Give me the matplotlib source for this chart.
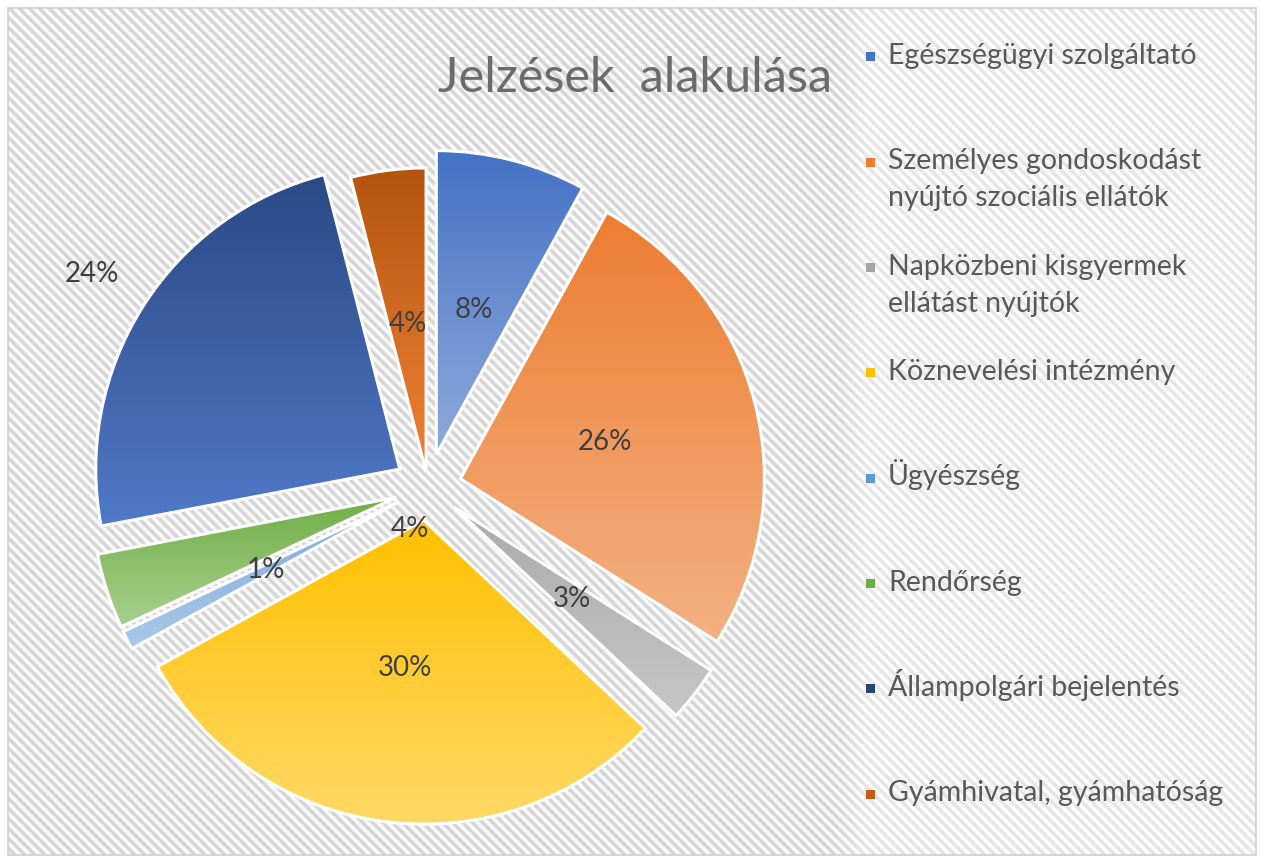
import numpy as np
import matplotlib.pyplot as plt
from matplotlib.colors import LinearSegmentedColormap
from matplotlib.patches import Rectangle

plt.rcParams['font.family'] = ['Lato', 'DejaVu Sans']

title = 'Jelzések  alakulása'
categories = ['Egészségügyi szolgáltató',
              'Személyes gondoskodást\nnyújtó szociális ellátók',
              'Napközbeni kisgyermek\nellátást nyújtók',
              'Köznevelési intézmény',
              'Ügyészség',
              'Rendőrség',
              'Állampolgári bejelentés',
              'Gyámhivatal, gyámhatóság']
shares = [8, 26, 3, 30, 1, 4, 24, 4]
explode_frac = [0.11, 0.11, 0.11, 0.11, 0.11, 0.11, 0.11, 0.05]

# gradient colours of the slices (top -> bottom) and legend markers
top_colors = ['#4472C4', '#ED7D31', '#ABABAB', '#FFC000', '#7FA9D9', '#70AD47', '#2B4A86', '#B4540E']
bottom_colors = ['#8FAADC', '#F4B183', '#C6C6C6', '#FFD966', '#A9C8EA', '#A9D18E', '#5079C7', '#F08236']
legend_colors = ['#4472C4', '#ED7D31', '#A5A5A5', '#FFC000', '#5B9BD5', '#70AD47', '#264478', '#C55A11']

W, H = 1264, 863
fig = plt.figure(figsize=(W / 100, H / 100), dpi=100)
ax = fig.add_axes([0, 0, 1, 1])
ax.set_axis_off()

# diagonal striped background, a bit lighter behind the legend
yy, xx = np.mgrid[0:H, 0:W]
wave = 0.5 + 0.5 * np.cos(2 * np.pi * (xx - yy) / 10.0)
fade = np.clip((xx - 835) / 30.0, 0, 1)
amp = 0.17 - 0.06 * fade
bg = 0.99 + 0.01 * fade - amp * wave
bg[(xx < 8) | (xx >= W - 8) | (yy < 8) | (yy >= H - 8)] = 1.0
ax.imshow(bg, cmap='gray', vmin=0, vmax=1, extent=(0, W, 0, H), origin='upper',
          interpolation='bilinear', zorder=0)
ax.add_patch(Rectangle((8, 8), W - 16, H - 16, fill=False, ec='#d0d0d0', lw=1.2, zorder=1))

R = 304
center = (428, H - 487)
wedges, texts, autotexts = ax.pie(shares, explode=[e * R for e in explode_frac], startangle=90,
                                  counterclock=False, center=center, radius=R,
                                  autopct='%1.0f%%', pctdistance=0.49,
                                  wedgeprops=dict(ec='white', lw=2.2),
                                  textprops=dict(fontsize=20, color='#404040'))

# vertical gradient inside every slice
grad = np.linspace(0, 1, 256).reshape(-1, 1)
for w, c0, c1 in zip(wedges, top_colors, bottom_colors):
    ext = w.get_path().get_extents()
    cmap = LinearSegmentedColormap.from_list('g', [c0, c1])
    im = ax.imshow(grad, cmap=cmap, extent=(ext.x0, ext.x1, ext.y0, ext.y1), origin='upper',
                   aspect='auto', zorder=1.5)
    im.set_clip_path(w)
    w.set_facecolor('none')
    w.set_zorder(2)
for t in autotexts:
    t.set_zorder(3)

# Állampolgári bejelentés label sits outside the slice
w = wedges[6]
mid = np.deg2rad((w.theta1 + w.theta2) / 2)
autotexts[6].set_position((w.center[0] + 1.2 * R * np.cos(mid), w.center[1] + 1.2 * R * np.sin(mid)))
# Rendőrség label was moved next to the tip of the yellow slice
yc = wedges[3].center
autotexts[5].set_position((yc[0] - 14, yc[1] - 9))

ax.text(635, H - 92, title, fontsize=35, color='#6b6b6b', ha='center', va='baseline', zorder=3)

# legend: first line of each entry sits on an evenly spaced slot
for i, (lab, col) in enumerate(zip(categories, legend_colors)):
    ymid = 57 + i * 105.3
    ax.add_patch(Rectangle((866, H - ymid - 4.5), 9, 9, fc=col, ec='none', zorder=3))
    for k, line in enumerate(lab.split('\n')):
        ax.text(888, H - ymid - 7 - k * 37, line, fontsize=20.5, color='#595959',
                ha='left', va='baseline', zorder=3)

ax.set_xlim(0, W)
ax.set_ylim(0, H)
ax.set_aspect('auto')

fig.savefig('out.png', dpi=100)
